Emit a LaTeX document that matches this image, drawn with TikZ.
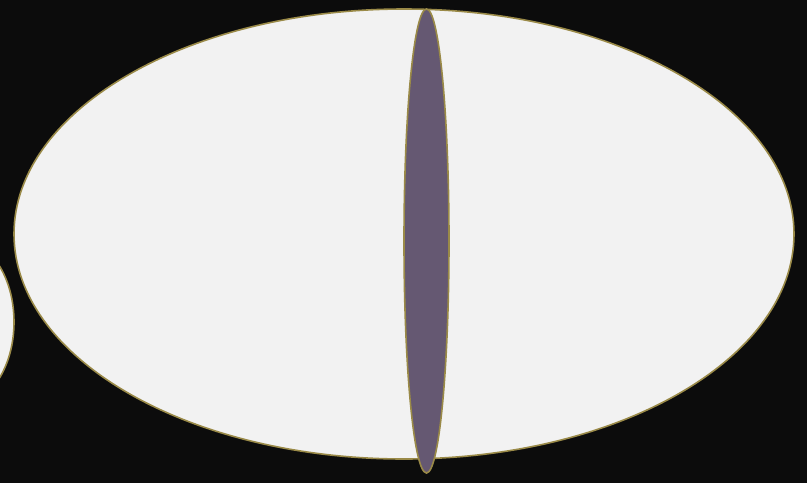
\documentclass[tikz,border=0pt]{standalone}
\definecolor{bg}{HTML}{0C0C0C}
\definecolor{lightfill}{HTML}{F2F2F2}
\definecolor{goldline}{HTML}{9A8A48}
\definecolor{purplefill}{HTML}{655872}
\begin{document}
\begin{tikzpicture}[x=1pt,y=-1pt,
  outlined/.style={draw=goldline,line width=1.6pt}]
\fill[bg] (0,0) rectangle (807,483);
\useasboundingbox (0,0) rectangle (807,483);
\begin{scope}
\clip (0,0) rectangle (807,483);
\filldraw[outlined,fill=lightfill] (-40,322) ellipse [x radius=54, y radius=82];
\end{scope}
\filldraw[outlined,fill=lightfill] (404,234) ellipse [x radius=390, y radius=225];
\filldraw[outlined,fill=purplefill] (426.5,241) ellipse [x radius=22.5, y radius=232];
\end{tikzpicture}
\end{document}
